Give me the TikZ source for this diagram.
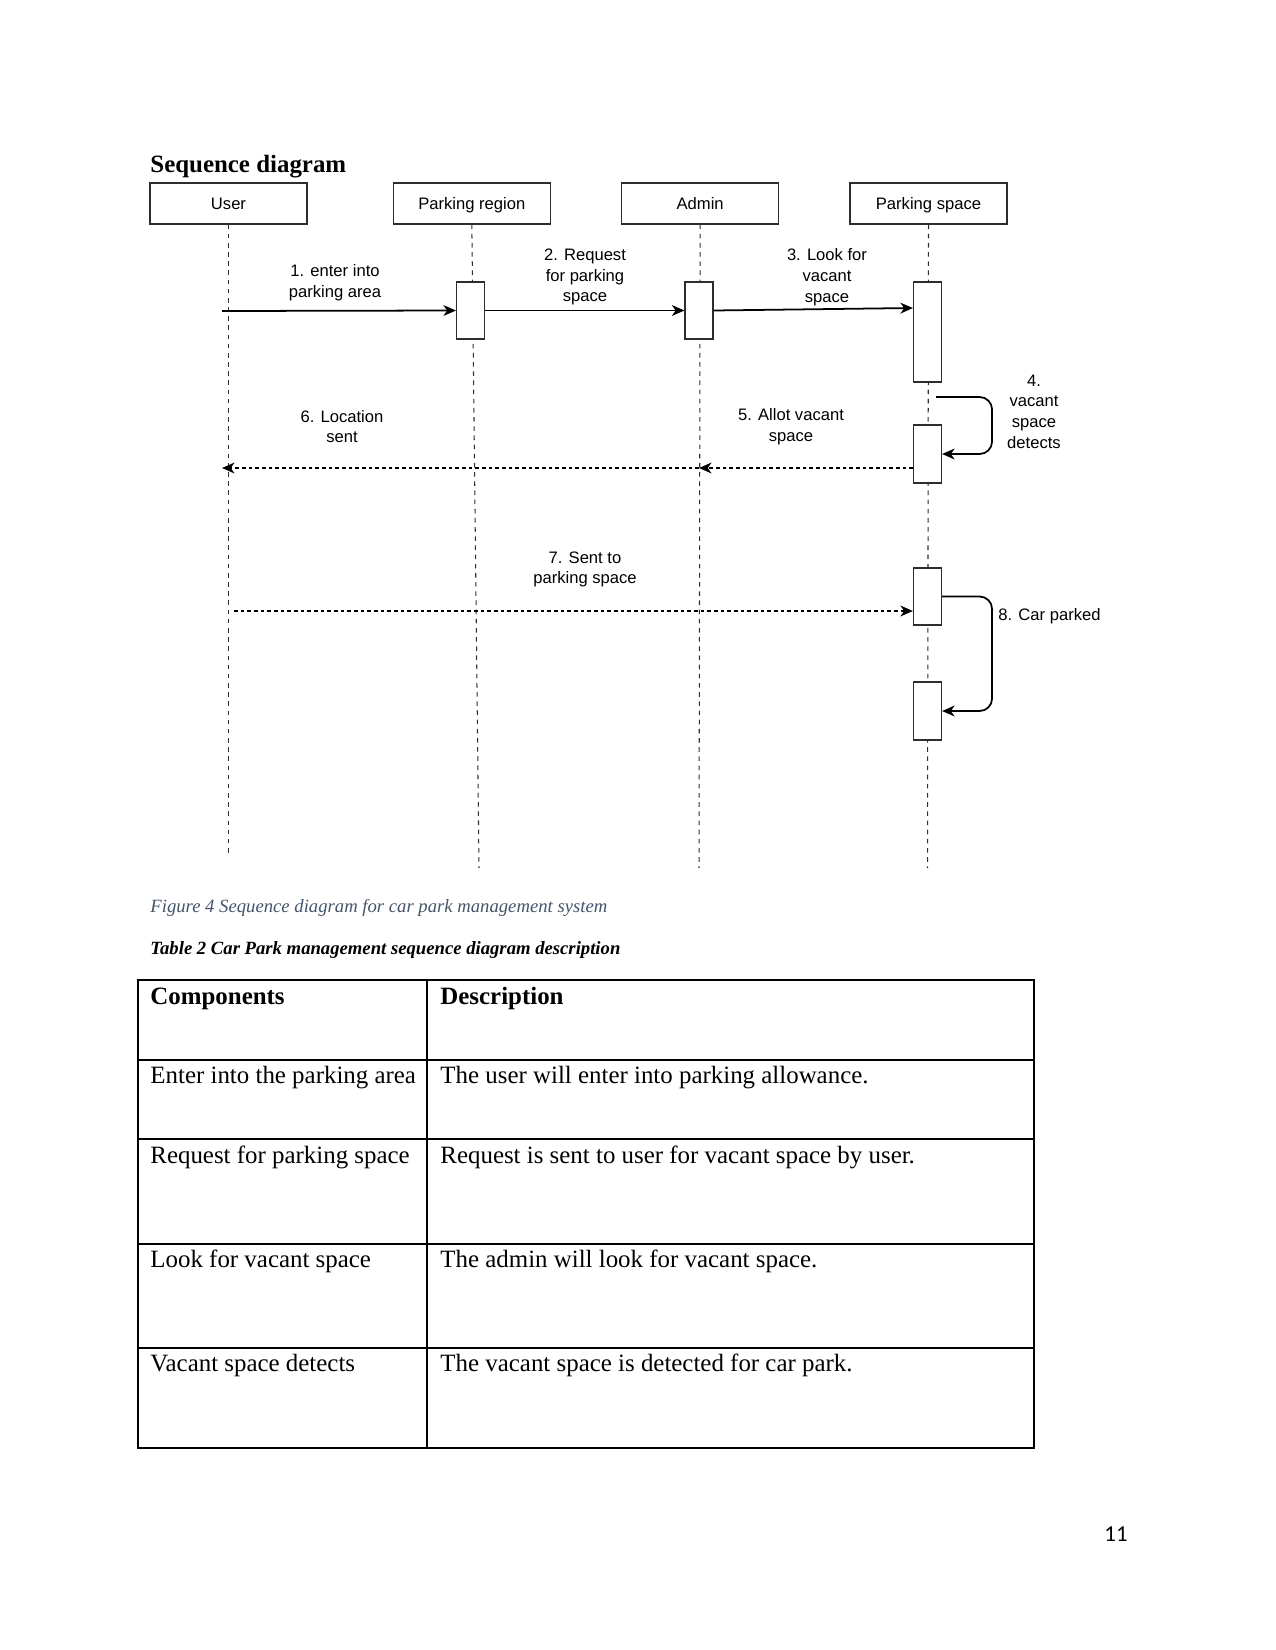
\documentclass[tikz,border=0pt]{standalone}
\usepackage{fontspec}
\setmainfont{Liberation Serif}
\newfontfamily\diagfont{Liberation Sans}
\newfontfamily\pagefont{Carlito}
\usetikzlibrary{
    arrows.meta,
    positioning,
    calc
}
\definecolor{Sline}{RGB}{45, 45, 45}
\definecolor{Scap}{RGB}{68, 84, 106}
\tikzset{
    shead/.style={
        rectangle, draw=Sline, line width=0.6pt, fill=white,
        minimum width=75.4bp, minimum height=19.7bp, inner sep=0pt,
        text height=6.6bp, text depth=0.6bp,
        font=\diagfont\fontsize{8}{10}\selectfont
    },
    sact/.style={
        rectangle, draw=Sline, line width=0.6pt, fill=white,
        minimum width=13.4bp, inner sep=0pt
    },
    slife/.style={draw=Sline, line width=0.5pt, dash pattern=on 2.2bp off 2.2bp},
    smsg/.style={-{Stealth[length=6bp, width=5.2bp, inset=1.8bp]}, line width=0.85pt, black},
    sret/.style={smsg, dash pattern=on 1.8bp off 1.4bp},
    slbl/.style={align=center, inner sep=0pt, font=\diagfont\fontsize{8}{10}\selectfont},
    stxt/.style={anchor=base west, inner sep=0pt, font=\fontsize{12}{14}\selectfont},
}

\begin{document}
\begin{tikzpicture}[x=0.48bp, y=-0.48bp]
    \useasboundingbox (0,0) rectangle (1275,1650);

    % ── title ──────────────────────────────────────────
    \node [stxt, font=\fontsize{12}{14}\selectfont\bfseries]
        (title) at (150,172) {Sequence diagram};

    % ── lifeline heads ─────────────────────────────────
    \node [shead] (user) at (228.5,203.5) {User};
    \node [shead, right=40.8bp of user] (region) {Parking region};
    \node [shead, right=33.6bp of region] (admin) {Admin};
    \node [shead, right=33.6bp of admin] (space) {Parking space};

    % ── lifelines ──────────────────────────────────────
    \coordinate (userEnd) at (228.5,855);
    \coordinate (regionEnd) at (479,868);
    \coordinate (adminEnd) at (699,868);
    \coordinate (spaceEnd) at (927.5,868);
    \draw [slife] (user.south) -- (userEnd);
    \draw [slife] (region.south) -- (regionEnd);
    \draw [slife] (admin.south) -- (adminEnd);
    \draw [slife] (space.south) -- (spaceEnd);

    % ── activation boxes ───────────────────────────────
    \node [sact, minimum height=27.4bp] (actR) at (470.5,310.5) {};
    \node [sact, minimum height=27.4bp] (actA) at (699,310.5) {};
    \node [sact, minimum height=48bp] (actS1) at (927.5,332) {};
    \node [sact, minimum height=27.8bp] (actS2) at (927.5,454) {};
    \node [sact, minimum height=27.4bp] (actS3) at (927.5,596.5) {};
    \node [sact, minimum height=27.8bp] (actS4) at (927.5,711) {};

    % ── messages ───────────────────────────────────────
    \coordinate (m1s) at (222,311);
    \coordinate (m3e) at (actS1.west |- 0,308);
    \coordinate (m4s) at (936,397);
    \coordinate (m5s) at (actS2.west |- 0,468);
    \coordinate (m5e) at (699,468);
    \coordinate (m6e) at (222,468);
    \coordinate (m7s) at (234,611);
    \coordinate (m7e) at (actS3.west |- m7s);

    \draw [smsg] (m1s) -- (actR.west);
    \draw [smsg] (actR.east) -- (actA.west);
    \draw [smsg] (actA.east) -- (m3e);
    \draw [smsg, rounded corners=6bp] (m4s) -| ($(actS2.east)+(50,0)$) -- (actS2.east);
    \draw [sret] (m5s) -- (m5e);
    \draw [sret] (m5e) -- (m6e);
    \draw [sret] (m7s) -- (m7e);
    \draw [smsg, rounded corners=6bp] (actS3.east) -| ($(actS4.east)+(50,0)$) -- (actS4.east);

    % ── message labels ─────────────────────────────────
    \node [slbl] (l1) at (335,283) {1. enter into\\parking area};
    \node [slbl] (l2) at (585,277) {2. Request\\for parking\\space};
    \node [slbl] (l3) at (827,277) {3. Look for\\vacant\\space};
    \node [slbl] (l4) at (1034,411.5) {4.\\vacant\\space\\detects};
    \node [slbl] (l5) at (791,426.5) {5. Allot vacant\\space};
    \node [slbl] (l6) at (342,426.5) {6. Location\\sent};
    \node [slbl] (l7) at (585,569.5) {7. Sent to\\parking space};
    \node [slbl, anchor=west] (l8) at (998,616) {8. Car parked};

    % ── captions ───────────────────────────────────────
    \node [stxt, font=\fontsize{9}{11}\selectfont\itshape, text=Scap]
        (figcap) at (150,912) {Figure 4 Sequence diagram for car park management system};
    \node [stxt, font=\fontsize{9}{11}\selectfont\bfseries\itshape]
        (tabcap) at (150,954) {Table 2 Car Park management sequence diagram description};

    % ── table ──────────────────────────────────────────
    \draw [line width=0.6pt] (138,980) rectangle (1034,1448);
    \draw [line width=0.6pt] (427,980) -- (427,1448);
    \foreach \y in {1060,1139,1244,1348}
        \draw [line width=0.6pt] (138,\y) -- (1034,\y);

    \node [stxt, font=\fontsize{12}{14}\selectfont\bfseries] (c0) at (150,1004) {Components};
    \node [stxt, font=\fontsize{12}{14}\selectfont\bfseries] (d0) at (440,1004) {Description};
    \node [stxt] (c1) at (150,1083) {Enter into the parking area};
    \node [stxt] (d1) at (440,1083) {The user will enter into parking allowance.};
    \node [stxt] (c2) at (150,1163) {Request for parking space};
    \node [stxt] (d2) at (440,1163) {Request is sent to user for vacant space by user.};
    \node [stxt] (c3) at (150,1267) {Look for vacant space};
    \node [stxt] (d3) at (440,1267) {The admin will look for vacant space.};
    \node [stxt] (c4) at (150,1371) {Vacant space detects};
    \node [stxt] (d4) at (440,1371) {The vacant space is detected for car park.};

    % ── page number ────────────────────────────────────
    \node [stxt, font=\pagefont\fontsize{11}{13}\selectfont] (pnum) at (1104,1541) {11};

\end{tikzpicture}
\end{document}
